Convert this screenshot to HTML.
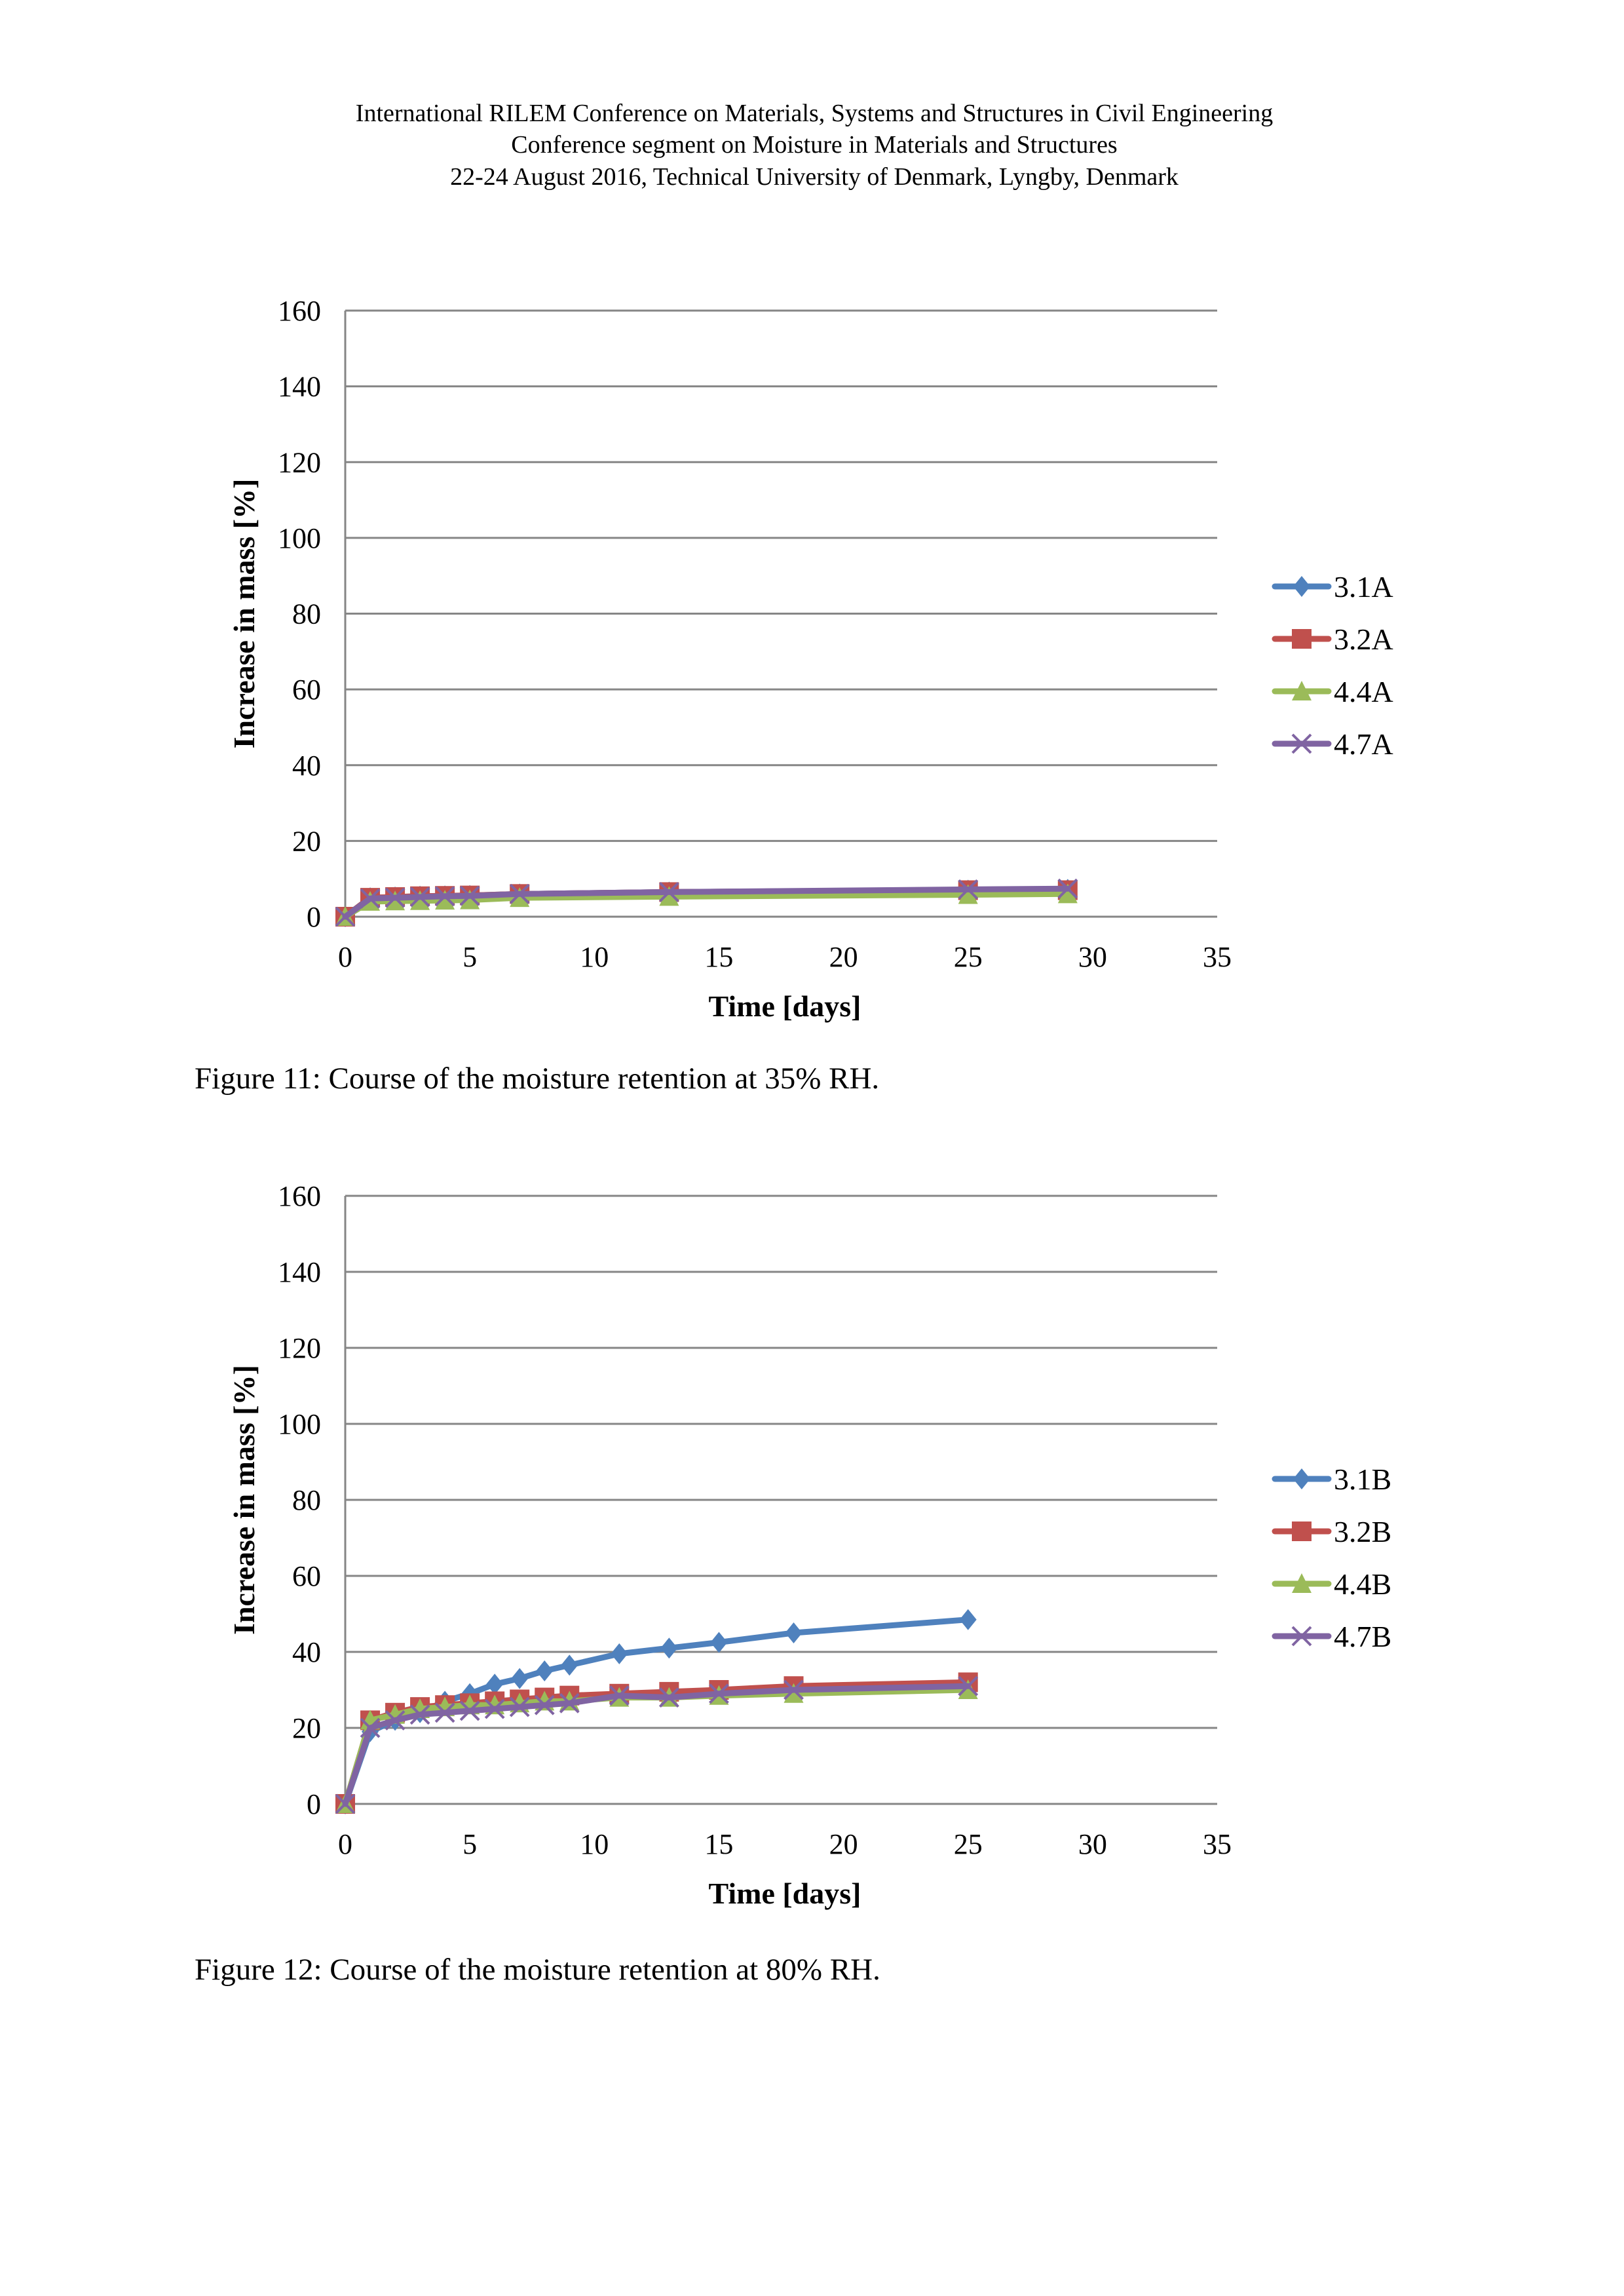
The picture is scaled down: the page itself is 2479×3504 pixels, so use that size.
<!DOCTYPE html>
<html><head><meta charset="utf-8"><style>
html,body{margin:0;padding:0;background:#fff;}
svg{display:block;font-family:"Liberation Serif",serif;}
</style></head><body>
<svg id="page" width="2479" height="3504" viewBox="0 0 2479 3504" xmlns="http://www.w3.org/2000/svg">
<rect width="2479" height="3504" fill="#fff"/>
<g font-size="38" text-anchor="middle" fill="#000">
<text x="1243" y="185">International RILEM Conference on Materials, Systems and Structures in Civil Engineering</text>
<text x="1243" y="233">Conference segment on Moisture in Materials and Structures</text>
<text x="1243" y="282">22-24 August 2016, Technical University of Denmark, Lyngby, Denmark</text>
</g>
<text x="297" y="1661" font-size="47">Figure 11: Course of the moisture retention at 35% RH.</text>
<text x="297" y="3021" font-size="47">Figure 12: Course of the moisture retention at 80% RH.</text>
<g id="chart1"></g>
<g id="chart2"></g>
</svg>
<script>
const yTicks = [0,20,40,60,80,100,120,140,160];
const xTicks = [0,5,10,15,20,25,30,35];
const c1Days = [0,1,2,3,4,5,7,13,25,29];
const c1Names = ["3.1A","3.2A","4.4A","4.7A"];
const c1S31 = [0,5,5.2,5.4,5.5,5.6,6,6.5,7,7.2];
const c1S32 = [0,5,5.2,5.4,5.5,5.6,6,6.5,7,7];
const c1S44 = [0,4,4.1,4.2,4.3,4.4,5,5.3,5.8,6];
const c1S47 = [0,4.8,5,5.2,5.4,5.5,6,6.5,7.2,7.4];
const c2Days = [0,1,2,3,4,5,6,7,8,9,11,13,15,18,25];
const c2Names = ["3.1B","3.2B","4.4B","4.7B"];
const c2S31 = [0,19,22,24,27,29,31.5,33,35,36.5,39.5,41,42.5,45,48.5];
const c2S32 = [0,22,24,25.5,26,26.5,27,27.5,28,28.5,29,29.5,30,31,32];
const c2S44 = [0,22,23.5,25,25.5,26,26,26.5,27,27,28,28,28.5,29,30];
const c2S47 = [0,20,22,23.5,24,24.5,25,25.5,26,26.5,28.5,28,29,30,31];

const NS="http://www.w3.org/2000/svg";
const colors=["#4f81bd","#c0504d","#9bbb59","#8064a2"];
const markers=["diamond","square","triangle","x"];
function mk(tag,attrs,parent){const e=document.createElementNS(NS,tag);for(const k in attrs)e.setAttribute(k,attrs[k]);parent.appendChild(e);return e;}
function marker(g,type,cx,cy,col){
  let e;
  if(type==="diamond"){e=mk("polygon",{points:`${cx},${cy-16} ${cx+13},${cy} ${cx},${cy+16} ${cx-13},${cy}`,fill:col},g);}
  else if(type==="square"){e=mk("rect",{x:cx-15,y:cy-15,width:30,height:30,fill:col},g);}
  else if(type==="triangle"){e=mk("polygon",{points:`${cx},${cy-16} ${cx+15},${cy+14} ${cx-15},${cy+14}`,fill:col},g);}
  else {e=mk("path",{d:`M${cx-14},${cy-14}L${cx+14},${cy+14}M${cx+14},${cy-14}L${cx-14},${cy+14}`,stroke:col,"stroke-width":4,fill:"none"},g);}
  
  
}
function drawChart(id,top,zero,days,series,names,legTop){
  const g=document.getElementById(id);
  const L=527,R=1858;
  const xs=v=>L+(v-0)/35*(R-L);
  const ys=v=>zero-v/160*(zero-top);
  yTicks.forEach(t=>{
    const ln=mk("line",{x1:L,x2:R,y1:ys(t),y2:ys(t),stroke:"#868686","stroke-width":3},g);
    
    
    const tx=mk("text",{x:490,y:ys(t)+15,"font-size":44,"text-anchor":"end"},g);
    tx.textContent=t;
    
    
  });
  const ax=mk("line",{x1:L,x2:L,y1:top,y2:zero,stroke:"#868686","stroke-width":3},g);
  
  
  xTicks.forEach(t=>{
    const tx=mk("text",{x:xs(t),y:zero+76,"font-size":44,"text-anchor":"middle"},g);
    tx.textContent=t;
    
    
  });
  const xt=mk("text",{x:1198,y:zero+152,"font-size":46,"font-weight":"bold","text-anchor":"middle"},g);
  xt.textContent="Time [days]";
  
  
  const yc=(top+zero)/2;
  const yt=mk("text",{x:0,y:0,"font-size":46,"font-weight":"bold","text-anchor":"middle",transform:`translate(388,${yc}) rotate(-90)`},g);
  yt.textContent="Increase in mass [%]";
  
  
  series.forEach((s,i)=>{
    const sg=mk("g",{},g);
    
    
    const pts=s.map((v,j)=>xs(days[j])+","+ys(v)).join(" ");
    const pl=mk("polyline",{points:pts,fill:"none",stroke:colors[i],"stroke-width":9,"stroke-linejoin":"round","stroke-linecap":"round"},sg);
    
    
    s.forEach((v,j)=>marker(sg,markers[i],xs(days[j]),ys(v),colors[i]));
  });
  names.forEach((n,i)=>{
    const lg=mk("g",{},g);
    
    
    const y=legTop+i*80;
    mk("line",{x1:1946,x2:2028,y1:y,y2:y,stroke:colors[i],"stroke-width":9,"stroke-linecap":"round"},lg);
    marker(lg,markers[i],1987,y,colors[i]);
    const t=mk("text",{x:2036,y:y+16,"font-size":46},lg);
    t.textContent=n;
  });
}
drawChart("chart1",474,1399,c1Days,[c1S31,c1S32,c1S44,c1S47],c1Names,895);
drawChart("chart2",1825,2753,c2Days,[c2S31,c2S32,c2S44,c2S47],c2Names,2257);
</script>
</body></html>
